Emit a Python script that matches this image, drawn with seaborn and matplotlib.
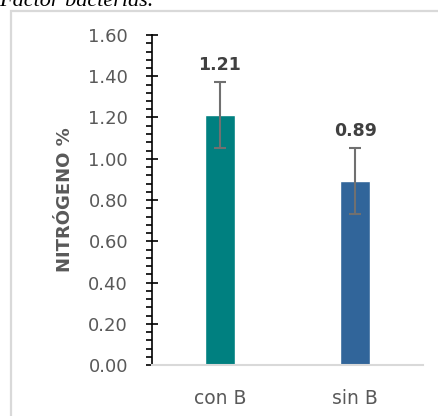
import matplotlib
matplotlib.use("Agg")
import matplotlib.pyplot as plt
import seaborn as sns
import pandas as pd
from matplotlib.patches import Rectangle
from matplotlib.ticker import MultipleLocator, FormatStrFormatter

# Data
categories = ["con B", "sin B"]
nitrogen = [1.21, 0.89]
errors = [0.16, 0.16]
bar_colors = ["#008080", "#31659A"]

sns.set_theme(style="white")
plt.rcParams["font.family"] = ["DejaVu Sans"]

W, H = 438, 416
fig = plt.figure(figsize=(W / 100, H / 100), dpi=100)

# Chart frame (top and left edges visible)
fig.patches.append(Rectangle((11 / W, -0.1), 1.2, 1 - 11 / H + 0.1,
                             transform=fig.transFigure, fill=False,
                             edgecolor="#d9d9d9", linewidth=1.6, zorder=0))

# Caption above the chart
fig.text(-1 / W, 1 - 6 / H, "Factor bacterias.", family="Liberation Serif",
         style="italic", fontsize=16, color="black", va="baseline", ha="left")

ax = fig.add_axes([152 / W, 1 - 365 / H, (423 - 152) / W, (365 - 35) / H])

df = pd.DataFrame({"cat": categories, "val": nitrogen})
sns.barplot(data=df, x="cat", y="val", hue="cat", palette=bar_colors,
            width=0.22, legend=False, ax=ax, errorbar=None, saturation=1)

ax.errorbar(range(len(categories)), nitrogen, yerr=errors, fmt="none",
            ecolor="#707070", elinewidth=1.5, capsize=4.3, capthick=1.5, zorder=5)

for i, (v, e) in enumerate(zip(nitrogen, errors)):
    ax.annotate(f"{v:.2f}", (i, v + e), xytext=(0, 6), textcoords="offset points",
                ha="center", va="bottom", fontsize=12.5, fontweight="bold",
                color="#404040")

ax.set_xlim(-0.5, 1.5)
ax.set_ylim(0, 1.6)
ax.yaxis.set_major_locator(MultipleLocator(0.2))
ax.yaxis.set_minor_locator(MultipleLocator(0.04))
ax.yaxis.set_major_formatter(FormatStrFormatter("%.2f"))

ax.tick_params(axis="y", which="major", direction="inout", length=8.5, width=1.2,
               color="black", labelsize=13, labelcolor="#595959", pad=13, left=True)
ax.tick_params(axis="y", which="minor", direction="out", length=4, width=1.2,
               color="black", left=True)
ax.tick_params(axis="x", length=0, labelsize=13.5, labelcolor="#595959", pad=17)

for side in ["top", "right"]:
    ax.spines[side].set_visible(False)
ax.spines["left"].set_color("black")
ax.spines["left"].set_linewidth(1.2)
ax.spines["bottom"].set_color("#d9d9d9")
ax.spines["bottom"].set_linewidth(1.5)

ax.set_xlabel("")
ax.set_ylabel("NITRÓGENO %", fontsize=13, fontweight="bold", color="#595959")
ax.yaxis.set_label_coords(-(152 - 74) / 271, (365 - 200) / 330)

fig.savefig("out.png", dpi=100)
